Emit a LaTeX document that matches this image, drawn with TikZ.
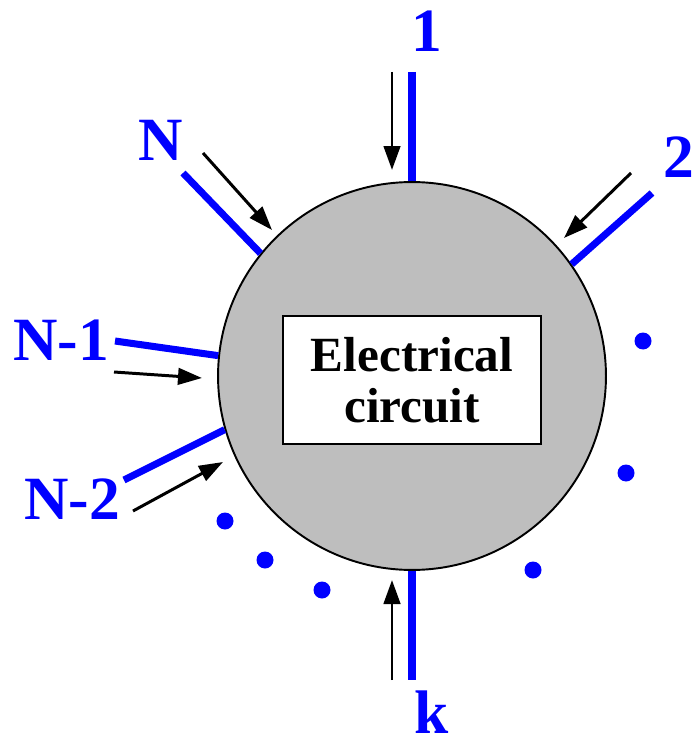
\documentclass[tikz,border=0pt]{standalone}
\usepackage{fontspec}
\setmainfont{Liberation Serif}
\usetikzlibrary{arrows.meta}
\definecolor{wireBlue}{HTML}{0000FF}
\definecolor{bodyGray}{HTML}{BEBEBE}

\begin{document}
\begin{tikzpicture}[
  x=0.02cm, y=-0.02cm,
  body/.style={circle, draw=black, line width=1.1pt, fill=bodyGray, minimum size=7.76cm, inner sep=0pt},
  core/.style={draw=black, line width=1.1pt, fill=white, minimum width=5.16cm, minimum height=2.56cm, align=center, font=\fontsize{28}{29}\selectfont\bfseries},
  wire/.style={draw=wireBlue, line width=4pt},
  flow/.style={draw=black, line width=1.7pt, -{Triangle[length=4.8mm, width=3.3mm]}},
  portlabel/.style={anchor=base, inner sep=0pt, text=wireBlue, font=\fontsize{35}{35}\selectfont\bfseries},
  moredot/.style={circle, fill=wireBlue, minimum size=0.34cm, inner sep=0pt}
]
\useasboundingbox (0,0) rectangle (694,740);

\node[body] (circuit) at (412,376) {};
\node[core] (core) at (412,380) {Electrical\\circuit};

\coordinate (wireOne) at (412,72);
\coordinate (wireTwo) at (652,193);
\coordinate (wireN) at (183,173);
\coordinate (wireNa) at (115,341);
\coordinate (wireNb) at (124,480);
\coordinate (wireK) at (412,680);

\draw[wire] (wireOne) -- (circuit.90);
\draw[wire] (wireTwo) -- (circuit.35.5);
\draw[wire] (wireN) -- (circuit.141);
\draw[wire] (wireNa) -- (circuit.174);
\draw[wire] (wireNb) -- (circuit.196);
\draw[wire] (circuit.270) -- (wireK);

\coordinate (flowOneA) at (392,72);   \coordinate (flowOneB) at (392,170);
\coordinate (flowTwoA) at (631,173);  \coordinate (flowTwoB) at (564,238);
\coordinate (flowNA) at (203,153);    \coordinate (flowNB) at (272,230);
\coordinate (flowNaA) at (114,372);   \coordinate (flowNaB) at (202,378);
\coordinate (flowNbA) at (133,511);   \coordinate (flowNbB) at (223,462);
\coordinate (flowKA) at (392,680);    \coordinate (flowKB) at (392,580);

\draw[flow] (flowOneA) -- (flowOneB);
\draw[flow] (flowTwoA) -- (flowTwoB);
\draw[flow] (flowNA) -- (flowNB);
\draw[flow] (flowNaA) -- (flowNaB);
\draw[flow] (flowNbA) -- (flowNbB);
\draw[flow] (flowKA) -- (flowKB);

\node[portlabel] (lblOne) at (427,52) {1};
\node[portlabel] (lblTwo) at (679,177) {2};
\node[portlabel] (lblN) at (161,160) {N};
\node[portlabel] (lblNa) at (61,360) {N-1};
\node[portlabel] (lblNb) at (72,519) {N-2};
\node[portlabel] (lblK) at (432,733) {k};

\node[moredot] (dotA) at (643,341) {};
\node[moredot] (dotB) at (626,473) {};
\node[moredot] (dotC) at (533,570) {};
\node[moredot] (dotD) at (322,590) {};
\node[moredot] (dotE) at (265,560) {};
\node[moredot] (dotF) at (225,521) {};
\end{tikzpicture}
\end{document}
